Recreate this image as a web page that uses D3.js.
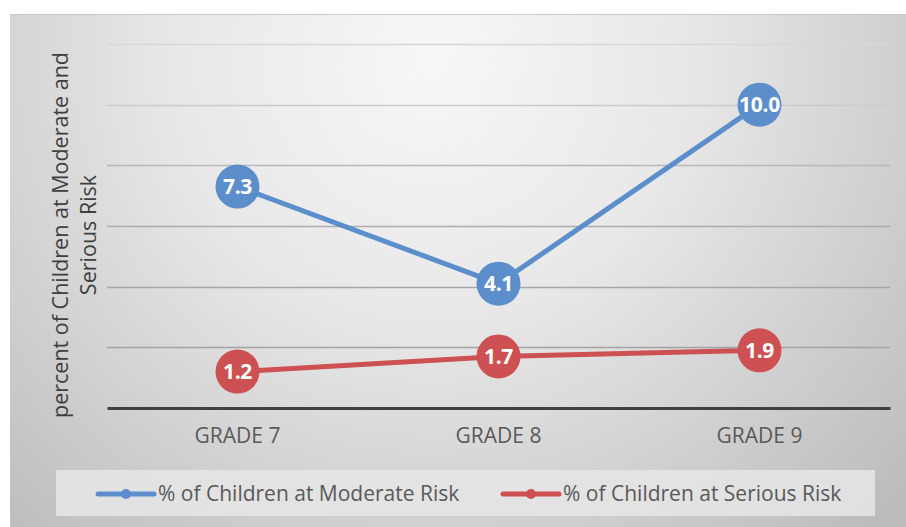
<!DOCTYPE html>
<html><head><meta charset="utf-8">
<script src="https://cdn.jsdelivr.net/npm/d3@7"></script>
<style>body{margin:0;background:#fff}svg{display:block}</style>
</head><body>
<svg id="c" width="906" height="527"></svg>
<script>
const categories = ["GRADE 7", "GRADE 8", "GRADE 9"];
const moderate = [7.3, 4.1, 10.0];
const serious = [1.2, 1.7, 1.9];
const seriesNames = ["% of Children at Moderate Risk", "% of Children at Serious Risk"];
const yTicks = [0, 2, 4, 6, 8, 10, 12];
const yTitle = ["percent of Children at Moderate and", "Serious Risk"];

const FONT = "'Open Sans', sans-serif";
const svg = d3.select("#c");
const defs = svg.append("defs");
const rg = defs.append("radialGradient").attr("id","bg")
  .attr("gradientUnits","userSpaceOnUse").attr("cx",430).attr("cy",60).attr("r",640);
rg.append("stop").attr("offset","0%").attr("stop-color","#f7f7f7");
rg.append("stop").attr("offset","40%").attr("stop-color","#e8e8e8");
rg.append("stop").attr("offset","100%").attr("stop-color","#bcbcbc");
svg.append("rect").attr("x",10).attr("y",14).attr("width",896).attr("height",513).attr("fill","url(#bg)");
svg.append("line").attr("x1",10).attr("x2",906).attr("y1",14.5).attr("y2",14.5).attr("stroke","#c8c8c8");

const x = d3.scaleBand().domain(categories).range([107, 890]);
const y = d3.scaleLinear().domain([0, 12]).range([408, 44]);

const gridCols = ["#a3a3a3","#a6a6a6","#acacac","#b8b8b8","#cbcbcb","#d8d8d8"];
svg.append("g").selectAll("line").data(yTicks.filter(t=>t>0)).join("line")
  .attr("x1",107).attr("x2",890).attr("y1",d=>Math.round(y(d))+0.5).attr("y2",d=>Math.round(y(d))+0.5)
  .attr("stroke",(d,i)=>gridCols[i]).attr("stroke-width",1.5);

const xAxis = svg.append("g").attr("transform","translate(0,408)")
  .call(d3.axisBottom(x).tickSize(0).tickPadding(20));
xAxis.select(".domain").attr("stroke","#404040").attr("stroke-width",3);
xAxis.selectAll("text").attr("font-family",FONT).attr("font-size",21).attr("fill","#595959");

const colors = ["#5b8ecb", "#cd5152"];
[moderate, serious].forEach((vals, si) => {
  const pts = categories.map((c,i)=>[x(c)+x.bandwidth()/2, y(vals[i])]);
  svg.append("path").attr("d", d3.line()(pts)).attr("fill","none")
    .attr("stroke",colors[si]).attr("stroke-width",5).attr("stroke-linecap","round");
  const g = svg.append("g");
  g.selectAll("circle").data(pts).join("circle")
    .attr("cx",d=>d[0]).attr("cy",d=>d[1]).attr("r",22).attr("fill",colors[si]);
  g.selectAll("text").data(pts).join("text")
    .attr("x",d=>d[0]).attr("y",d=>d[1]).attr("dy","0.36em").attr("text-anchor","middle")
    .attr("font-family",FONT).attr("font-weight","bold").attr("font-size",21)
    .attr("letter-spacing",-0.3)
    .attr("fill","#fff").text((d,i)=>vals[i].toFixed(1));
});

yTitle.forEach((t,i)=>{
  svg.append("text").attr("transform",`translate(${68+i*28},235) rotate(-90)`)
    .attr("font-family",FONT).attr("font-size",21.5).attr("fill","#404040")
    .attr("text-anchor","middle").text(t);
});

// legend
svg.append("rect").attr("x",56).attr("y",470).attr("width",819).attr("height",46).attr("fill","#e6e6e6").attr("opacity",0.85);
const legX = [98, 503];
seriesNames.forEach((n,i)=>{
  const g = svg.append("g").attr("transform",`translate(${legX[i]},494)`);
  g.append("line").attr("x1",0).attr("x2",56).attr("stroke",colors[i]).attr("stroke-width",5).attr("stroke-linecap","round");
  g.append("circle").attr("cx",28).attr("r",5).attr("fill",colors[i]);
  g.append("text").attr("x",60).attr("dy","0.35em").attr("font-family",FONT)
    .attr("font-size",21).attr("fill","#595959").text(n);
});
</script>
</body></html>
